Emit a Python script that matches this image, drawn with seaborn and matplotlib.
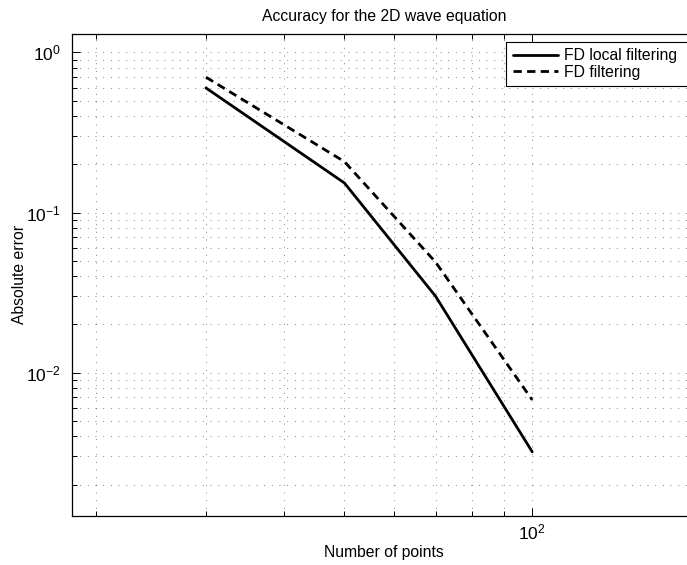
import matplotlib
matplotlib.use("Agg")
import matplotlib.pyplot as plt
import matplotlib.ticker as mticker
import numpy as np
import pandas as pd
import seaborn as sns

# Convergence data: number of grid points vs. absolute error
n_points = [30, 50, 70, 100]
err_local = [0.60, 0.153, 0.030, 0.0032]
err_filter = [0.70, 0.208, 0.049, 0.00675]
series_names = ["FD local filtering", "FD filtering"]

sns.set_style("white", rc={
    "text.color": "black", "axes.labelcolor": "black",
    "xtick.color": "black", "ytick.color": "black",
    "xtick.major.size": 5.8, "ytick.major.size": 5.8,
    "xtick.minor.size": 3.6, "ytick.minor.size": 3.6,
    "xtick.direction": "in", "ytick.direction": "in",
})
plt.rcParams["font.family"] = ["Liberation Sans", "DejaVu Sans"]
plt.rcParams["mathtext.fontset"] = "custom"
plt.rcParams["mathtext.rm"] = "Liberation Sans"
plt.rcParams["mathtext.it"] = "Liberation Sans"
plt.rcParams["mathtext.bf"] = "Liberation Sans"

W, H = 687, 565
fig = plt.figure(figsize=(W / 100, H / 100), dpi=100)
left, right, top, bottom = 72, 696, 33.7, 515.7
ax = fig.add_axes([left / W, 1 - bottom / H, (right - left) / W, (bottom - top) / H])

df = pd.DataFrame({
    "n": n_points * 2,
    "err": err_local + err_filter,
    "series": [series_names[0]] * len(n_points) + [series_names[1]] * len(n_points),
})

sns.lineplot(data=df[df.series == series_names[0]], x="n", y="err", ax=ax,
             color="black", lw=2.0, label=series_names[0])
sns.lineplot(data=df[df.series == series_names[1]], x="n", y="err", ax=ax,
             color="black", lw=2.0, label=series_names[1])
ax.lines[1].set_linestyle((0, (3.0, 1.9)))

ax.set_xscale("log")
ax.set_yscale("log")
ax.set_xlim(18.3, 183)
ax.set_ylim(0.001277, 1.309)

ax.xaxis.set_major_locator(mticker.LogLocator(base=10))
ax.xaxis.set_minor_locator(mticker.LogLocator(base=10, subs=np.arange(2, 10)))
ax.yaxis.set_major_locator(mticker.LogLocator(base=10))
ax.yaxis.set_minor_locator(mticker.LogLocator(base=10, subs=np.arange(2, 10)))
ax.xaxis.set_minor_formatter(mticker.NullFormatter())
ax.yaxis.set_minor_formatter(mticker.NullFormatter())

grid_kw = dict(color="black", alpha=0.55, lw=0.6, linestyle=(0, (1.2, 8)))
ax.grid(True, which="major", **grid_kw)
ax.grid(True, which="minor", **grid_kw)

for s in ax.spines.values():
    s.set_color("black")
    s.set_linewidth(0.9)

ax.tick_params(which="both", direction="in", bottom=True, left=True,
               top=True, right=True, color="black", width=0.7)
ax.tick_params(which="major", length=5.8, labelsize=12.5, labelcolor="black")
ax.tick_params(which="minor", length=3.6)
ax.tick_params(axis="y", which="major", pad=8)
ax.tick_params(axis="x", which="major", pad=5)

ax.set_title("Accuracy for the 2D wave equation", fontsize=11.3, pad=9, color="black")
ax.set_xlabel("Number of points", fontsize=11.3, color="black")
ax.set_ylabel("Absolute error", fontsize=11.3, color="black")
ax_w, ax_h = right - left, bottom - top
ax.xaxis.set_label_coords(0.5, -(553 - bottom) / ax_h)
ax.yaxis.set_label_coords(-(left - 20) / ax_w, 0.5)
ax.xaxis.label.set_va("center")
ax.yaxis.label.set_va("center")
ax.yaxis.label.set_ha("center")

lx0, lx1, ly0 = 506, 694, 41.7
leg = ax.legend(loc="upper left",
                bbox_to_anchor=(lx0 / W, 1 - 86 / H, (lx1 - lx0) / W, (86 - ly0) / H),
                bbox_transform=fig.transFigure, borderaxespad=0, mode="expand",
                fontsize=11.3, frameon=True, fancybox=False, handlelength=2.9,
                handletextpad=0.4, labelspacing=0.1, borderpad=0.42)
leg.get_frame().set_edgecolor("black")
leg.get_frame().set_linewidth(0.8)
leg.get_frame().set_alpha(1)
for t in leg.get_texts():
    t.set_color("black")

fig.savefig("out.png", dpi=100)
